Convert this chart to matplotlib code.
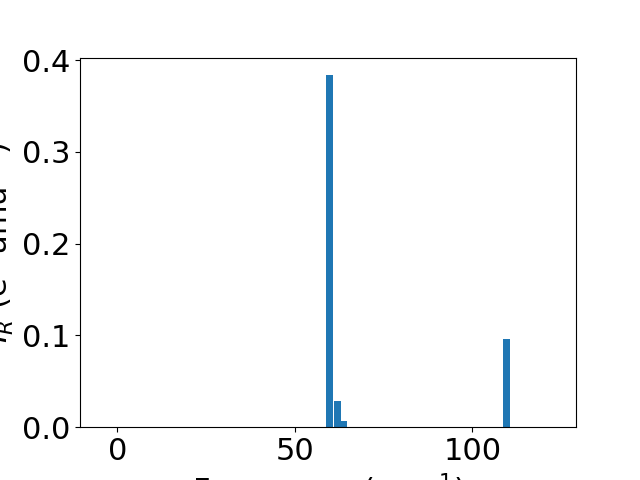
import matplotlib
matplotlib.use("Agg")
import matplotlib.pyplot as plt

freqs = [59.8, 61.95, 63.75, 109.6]
intensities = [0.3837, 0.029, 0.0073, 0.0957]

plt.rcParams['font.size'] = 22
fig, ax = plt.subplots(figsize=(6.4, 4.8), dpi=100)
ax.bar(freqs, intensities, width=1.9, color='#1f77b4')
ax.set_xlim(-10.5, 129.2)
ax.set_xticks([0, 50, 100])
ax.set_yticks([0.0, 0.1, 0.2, 0.3, 0.4])
ax.set_xlabel("Frequency (cm$^{-1}$)")
ax.set_ylabel("$I_R$ (e$^2$ amu$^{-1}$)")
fig.savefig("out.png", dpi=100)
